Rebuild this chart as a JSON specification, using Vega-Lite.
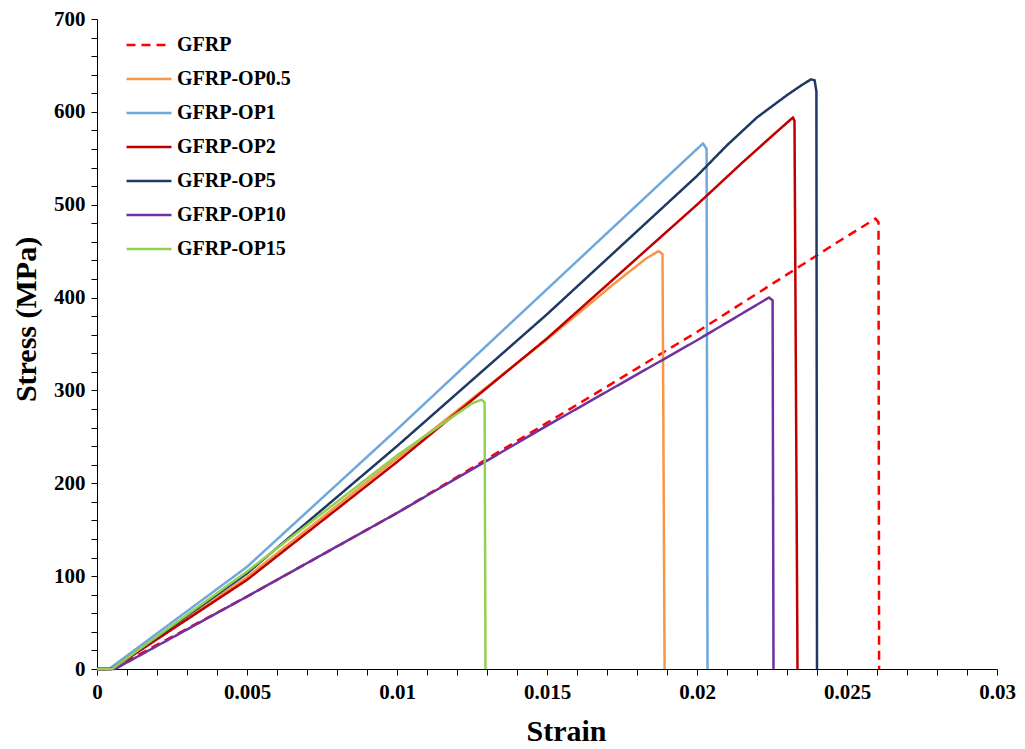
{
  "$schema": "https://vega.github.io/schema/vega-lite/v6.json",
  "width": 900,
  "height": 650,
  "autosize": "none",
  "padding": {"left": 97, "top": 19, "right": 28, "bottom": 80},
  "background": "white",
  "config": {
    "view": {"stroke": null},
    "font": "Liberation Serif",
    "axis": {
      "grid": false,
      "domainColor": "#000000",
      "tickColor": "#000000",
      "domainWidth": 1,
      "tickWidth": 1,
      "tickSize": 6,
      "labelFont": "Liberation Serif",
      "labelFontWeight": "bold",
      "labelFontSize": 21,
      "labelColor": "#000000",
      "titleFont": "Liberation Serif",
      "titleFontWeight": "bold",
      "titleFontSize": 30,
      "titleColor": "#000000"
    }
  },
  "data": {
    "values": [
      {"series": "GFRP", "i": 0, "strain": 0, "stress": 0},
      {"series": "GFRP", "i": 1, "strain": 0.0005, "stress": 0},
      {"series": "GFRP", "i": 2, "strain": 0.005, "stress": 78},
      {"series": "GFRP", "i": 3, "strain": 0.01, "stress": 168},
      {"series": "GFRP", "i": 4, "strain": 0.015, "stress": 265},
      {"series": "GFRP", "i": 5, "strain": 0.02, "stress": 363},
      {"series": "GFRP", "i": 6, "strain": 0.0248, "stress": 462},
      {"series": "GFRP", "i": 7, "strain": 0.02595, "stress": 485},
      {"series": "GFRP", "i": 8, "strain": 0.02605, "stress": 481},
      {"series": "GFRP", "i": 9, "strain": 0.02607, "stress": 0},
      {"series": "GFRP-OP0.5", "i": 0, "strain": 0, "stress": 0},
      {"series": "GFRP-OP0.5", "i": 1, "strain": 0.0005, "stress": 0},
      {"series": "GFRP-OP0.5", "i": 2, "strain": 0.005, "stress": 99},
      {"series": "GFRP-OP0.5", "i": 3, "strain": 0.01, "stress": 227},
      {"series": "GFRP-OP0.5", "i": 4, "strain": 0.015, "stress": 355},
      {"series": "GFRP-OP0.5", "i": 5, "strain": 0.0172, "stress": 414},
      {"series": "GFRP-OP0.5", "i": 6, "strain": 0.0183, "stress": 442},
      {"series": "GFRP-OP0.5", "i": 7, "strain": 0.01872, "stress": 450},
      {"series": "GFRP-OP0.5", "i": 8, "strain": 0.01885, "stress": 447},
      {"series": "GFRP-OP0.5", "i": 9, "strain": 0.01892, "stress": 0},
      {"series": "GFRP-OP1", "i": 0, "strain": 0, "stress": 0},
      {"series": "GFRP-OP1", "i": 1, "strain": 0.0004, "stress": 0},
      {"series": "GFRP-OP1", "i": 2, "strain": 0.005, "stress": 110},
      {"series": "GFRP-OP1", "i": 3, "strain": 0.01, "stress": 258},
      {"series": "GFRP-OP1", "i": 4, "strain": 0.015, "stress": 409},
      {"series": "GFRP-OP1", "i": 5, "strain": 0.02, "stress": 560},
      {"series": "GFRP-OP1", "i": 6, "strain": 0.0202, "stress": 566},
      {"series": "GFRP-OP1", "i": 7, "strain": 0.02032, "stress": 560},
      {"series": "GFRP-OP1", "i": 8, "strain": 0.02035, "stress": 0},
      {"series": "GFRP-OP2", "i": 0, "strain": 0, "stress": 0},
      {"series": "GFRP-OP2", "i": 1, "strain": 0.0005, "stress": 0},
      {"series": "GFRP-OP2", "i": 2, "strain": 0.005, "stress": 96},
      {"series": "GFRP-OP2", "i": 3, "strain": 0.01, "stress": 223},
      {"series": "GFRP-OP2", "i": 4, "strain": 0.015, "stress": 356},
      {"series": "GFRP-OP2", "i": 5, "strain": 0.02, "stress": 500},
      {"series": "GFRP-OP2", "i": 6, "strain": 0.0215, "stress": 545},
      {"series": "GFRP-OP2", "i": 7, "strain": 0.0225, "stress": 574},
      {"series": "GFRP-OP2", "i": 8, "strain": 0.0232, "stress": 594},
      {"series": "GFRP-OP2", "i": 9, "strain": 0.02325, "stress": 590},
      {"series": "GFRP-OP2", "i": 10, "strain": 0.02335, "stress": 0},
      {"series": "GFRP-OP5", "i": 0, "strain": 0, "stress": 0},
      {"series": "GFRP-OP5", "i": 1, "strain": 0.0005, "stress": 0},
      {"series": "GFRP-OP5", "i": 2, "strain": 0.005, "stress": 103},
      {"series": "GFRP-OP5", "i": 3, "strain": 0.01, "stress": 240},
      {"series": "GFRP-OP5", "i": 4, "strain": 0.015, "stress": 382},
      {"series": "GFRP-OP5", "i": 5, "strain": 0.02, "stress": 531},
      {"series": "GFRP-OP5", "i": 6, "strain": 0.021, "stress": 564},
      {"series": "GFRP-OP5", "i": 7, "strain": 0.022, "stress": 594},
      {"series": "GFRP-OP5", "i": 8, "strain": 0.023, "stress": 618},
      {"series": "GFRP-OP5", "i": 9, "strain": 0.0235, "stress": 629},
      {"series": "GFRP-OP5", "i": 10, "strain": 0.0238, "stress": 635},
      {"series": "GFRP-OP5", "i": 11, "strain": 0.02392, "stress": 634},
      {"series": "GFRP-OP5", "i": 12, "strain": 0.02398, "stress": 622},
      {"series": "GFRP-OP5", "i": 13, "strain": 0.024, "stress": 0},
      {"series": "GFRP-OP10", "i": 0, "strain": 0, "stress": 0},
      {"series": "GFRP-OP10", "i": 1, "strain": 0.0006, "stress": 0},
      {"series": "GFRP-OP10", "i": 2, "strain": 0.005, "stress": 78},
      {"series": "GFRP-OP10", "i": 3, "strain": 0.01, "stress": 168},
      {"series": "GFRP-OP10", "i": 4, "strain": 0.015, "stress": 262},
      {"series": "GFRP-OP10", "i": 5, "strain": 0.02, "stress": 354},
      {"series": "GFRP-OP10", "i": 6, "strain": 0.0224, "stress": 400},
      {"series": "GFRP-OP10", "i": 7, "strain": 0.02252, "stress": 397},
      {"series": "GFRP-OP10", "i": 8, "strain": 0.02255, "stress": 0},
      {"series": "GFRP-OP15", "i": 0, "strain": 0, "stress": 0},
      {"series": "GFRP-OP15", "i": 1, "strain": 0.0005, "stress": 0},
      {"series": "GFRP-OP15", "i": 2, "strain": 0.005, "stress": 105},
      {"series": "GFRP-OP15", "i": 3, "strain": 0.01, "stress": 230},
      {"series": "GFRP-OP15", "i": 4, "strain": 0.0125, "stress": 286},
      {"series": "GFRP-OP15", "i": 5, "strain": 0.01282, "stress": 290},
      {"series": "GFRP-OP15", "i": 6, "strain": 0.01292, "stress": 287},
      {"series": "GFRP-OP15", "i": 7, "strain": 0.01295, "stress": 0}
    ]
  },
  "mark": {"type": "line", "strokeWidth": 2.5, "strokeJoin": "round"},
  "encoding": {
    "x": {
      "field": "strain",
      "type": "quantitative",
      "scale": {"domain": [0, 0.03], "nice": false},
      "axis": {
        "title": "Strain",
        "values": [0, 0.001, 0.002, 0.003, 0.004, 0.005, 0.006, 0.007, 0.008, 0.009, 0.01, 0.011, 0.012, 0.013, 0.014, 0.015, 0.016, 0.017, 0.018, 0.019, 0.02, 0.021, 0.022, 0.023, 0.024, 0.025, 0.026, 0.027, 0.028, 0.029, 0.03],
        "format": ".3~f",
        "labelExpr": "round(datum.value * 1000) % 5 == 0 ? datum.label : ''",
        "labelPadding": 6,
        "titlePadding": 14,
        "titleX": 469,
        "labelFlush": false
      }
    },
    "y": {
      "field": "stress",
      "type": "quantitative",
      "scale": {"domain": [0, 700], "nice": false},
      "axis": {
        "title": "Stress (MPa)",
        "values": [0, 20, 40, 60, 80, 100, 120, 140, 160, 180, 200, 220, 240, 260, 280, 300, 320, 340, 360, 380, 400, 420, 440, 460, 480, 500, 520, 540, 560, 580, 600, 620, 640, 660, 680, 700],
        "labelExpr": "round(datum.value) % 100 == 0 ? datum.label : ''",
        "labelPadding": 6,
        "titlePadding": 12,
        "titleY": 300,
        "labelFlush": false
      }
    },
    "color": {
      "field": "series",
      "type": "nominal",
      "title": null,
      "scale": {
        "domain": ["GFRP", "GFRP-OP0.5", "GFRP-OP1", "GFRP-OP2", "GFRP-OP5", "GFRP-OP10", "GFRP-OP15"],
        "range": ["#FF0000", "#F79646", "#6FA8DC", "#C00000", "#1F3864", "#7030A0", "#92D050"]
      },
      "legend": {
        "orient": "none",
        "legendX": 28,
        "legendY": 2,
        "symbolType": "stroke",
        "symbolSize": 2025,
        "symbolStrokeWidth": 2.5,
        "labelFont": "Liberation Serif",
        "labelFontWeight": "bold",
        "labelFontSize": 20,
        "labelColor": "#000000",
        "rowPadding": -11,
        "labelOffset": 4
      }
    },
    "strokeDash": {
      "field": "series",
      "type": "nominal",
      "title": null,
      "scale": {
        "domain": ["GFRP", "GFRP-OP0.5", "GFRP-OP1", "GFRP-OP2", "GFRP-OP5", "GFRP-OP10", "GFRP-OP15"],
        "range": [[9, 6], [1, 0], [1, 0], [1, 0], [1, 0], [1, 0], [1, 0]]
      }
    },
    "order": {"field": "i", "type": "quantitative"}
  }
}
